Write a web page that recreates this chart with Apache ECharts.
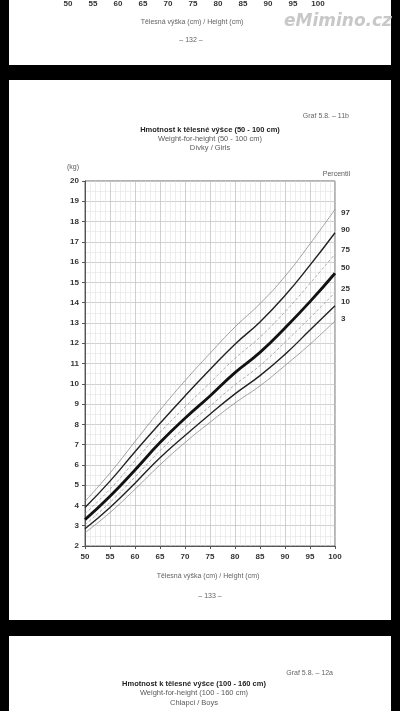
<!DOCTYPE html>
<html>
<head>
<meta charset="utf-8">
<script src="https://cdn.jsdelivr.net/npm/echarts@6/dist/echarts.min.js"></script>
<style>
  html, body { margin: 0; padding: 0; background: #000; }
  .page { position: absolute; left: 9px; width: 382px; background: #fff; }
  #chart { position: absolute; left: 0; top: 0; width: 400px; height: 711px; }
</style>
</head>
<body>
<div class="page" style="top:0;height:65px"></div>
<div class="page" style="top:80px;height:540px"></div>
<div class="page" style="top:636px;height:75px"></div>
<div id="chart"></div>
<script>
// height in cm, weight in kg
const heights = [50, 55, 60, 65, 70, 75, 80, 85, 90, 95, 100];
const p97 = [4.2, 5.6, 7.15, 8.7, 10.15, 11.5, 12.8, 13.95, 15.3, 16.9, 18.6];
const p90 = [3.9, 5.2, 6.65, 8.05, 9.4, 10.7, 11.95, 13.05, 14.35, 15.85, 17.45];
const p75 = [3.6, 4.8, 6.2, 7.6, 8.85, 10.05, 11.25, 12.3, 13.55, 14.95, 16.4];
const p50 = [3.3, 4.45, 5.75, 7.1, 8.3, 9.4, 10.55, 11.55, 12.75, 14.05, 15.45];
const p25 = [3.05, 4.15, 5.4, 6.7, 7.85, 8.9, 9.95, 10.9, 12.05, 13.25, 14.5];
const p10 = [2.85, 3.9, 5.1, 6.35, 7.45, 8.5, 9.5, 10.4, 11.45, 12.65, 13.85];
const p3 = [2.65, 3.65, 4.8, 6.0, 7.1, 8.1, 9.05, 9.9, 10.9, 11.95, 13.1];
const percentiles = ['97', '90', '75', '50', '25', '10', '3'];
const xTicks = ['50', '55', '60', '65', '70', '75', '80', '85', '90', '95', '100'];

const chart = echarts.init(document.getElementById('chart'));

const font = '"Liberation Sans", Arial, sans-serif';
const curves = [p97, p90, p75, p50, p25, p10, p3];
const styles = [
  { color: '#8a8a8a', width: 0.8, type: 'solid' },
  { color: '#222', width: 1.4, type: 'solid' },
  { color: '#9a9a9a', width: 0.8, type: [3, 2] },
  { color: '#111', width: 2.8, type: 'solid' },
  { color: '#9a9a9a', width: 0.8, type: [3, 2] },
  { color: '#222', width: 1.4, type: 'solid' },
  { color: '#8a8a8a', width: 0.8, type: 'solid' }
];
const labelShift = [3, -3, -4, -5, -4, -4, -2];

function txt(text, x, y, size, opts) {
  return {
    type: 'text',
    x: x,
    y: y,
    style: Object.assign({
      text: text,
      fontSize: size,
      fontFamily: font,
      fill: '#5a5a5a',
      textAlign: 'center',
      textVerticalAlign: 'middle'
    }, opts || {})
  };
}

const option = {
  animation: false,
  grid: [
    { left: 85, top: 181, width: 250, height: 365, show: true, borderColor: '#666', borderWidth: 1 },
    { left: 68, top: -20, width: 250, height: 12 }
  ],
  xAxis: [
    {
      type: 'value',
      min: 50,
      max: 100,
      interval: 5,
      axisLine: { lineStyle: { color: '#555' } },
      axisTick: { length: 3, lineStyle: { color: '#555' } },
      axisLabel: { fontSize: 8, fontWeight: 'bold', color: '#333', margin: 7, fontFamily: font },
      splitLine: { lineStyle: { color: '#c4c4c4', width: 0.8 } },
      minorTick: { show: false, splitNumber: 5 },
      minorSplitLine: { show: true, lineStyle: { color: '#e2e2e2', width: 0.6 } }
    },
    {
      gridIndex: 1,
      type: 'value',
      min: 50,
      max: 100,
      interval: 5,
      axisLine: { show: false },
      axisTick: { show: false },
      splitLine: { show: false },
      axisLabel: { fontSize: 8, fontWeight: 'bold', color: '#333', margin: 5, fontFamily: font,
        formatter: (v) => xTicks[(v - 50) / 5] }
    }
  ],
  yAxis: [
    {
      type: 'value',
      min: 2,
      max: 20,
      interval: 1,
      axisLine: { show: true, lineStyle: { color: '#555' } },
      axisTick: { show: true, length: 3, lineStyle: { color: '#555' } },
      axisLabel: { fontSize: 8, fontWeight: 'bold', color: '#333', margin: 6, fontFamily: font },
      splitLine: { lineStyle: { color: '#c4c4c4', width: 0.8 } },
      minorTick: { show: false, splitNumber: 2 },
      minorSplitLine: { show: true, lineStyle: { color: '#e2e2e2', width: 0.6 } }
    },
    { gridIndex: 1, type: 'value', show: false }
  ],
  series: curves.map((vals, i) => ({
    name: percentiles[i],
    type: 'line',
    smooth: 0.5,
    symbol: 'none',
    z: i === 3 ? 5 : 3,
    lineStyle: styles[i],
    endLabel: {
      show: true,
      formatter: percentiles[i],
      distance: 6,
      offset: [0, labelShift[i]],
      fontSize: 8,
      fontWeight: 'bold',
      color: '#333',
      fontFamily: font
    },
    data: heights.map((h, j) => [h, vals[j]])
  })),
  graphic: [
    // previous page tail
    txt('Tělesná výška (cm) / Height (cm)', 192, 22, 7, { fill: '#646464' }),
    txt('– 132 –', 191, 40, 7, { fill: '#646464' }),
    txt('eMimino.cz', 338, 22, 17, { fill: '#c8c8c8', fontWeight: 'bold', fontStyle: 'italic', fontFamily: '"DejaVu Sans", Verdana, sans-serif' }),
    // this page
    txt('Graf 5.8. – 11b', 349, 116, 7, { fill: '#646464', textAlign: 'right' }),
    txt('Hmotnost k tělesné výšce (50 - 100 cm)', 210, 130, 7.5, { fill: '#222', fontWeight: 'bold' }),
    txt('Weight-for-height (50 - 100 cm)', 210, 139, 7.5),
    txt('Dívky / Girls', 210, 148, 7.5),
    txt('(kg)', 73, 167, 7),
    txt('Percentil', 350, 174, 7, { textAlign: 'right' }),
    txt('Tělesná výška (cm) / Height (cm)', 208, 576, 7, { fill: '#646464' }),
    txt('– 133 –', 210, 596, 7, { fill: '#646464' }),
    // next page head
    txt('Graf 5.8. – 12a', 333, 673, 7, { fill: '#646464', textAlign: 'right' }),
    txt('Hmotnost k tělesné výšce (100 - 160 cm)', 194, 684, 7.5, { fill: '#222', fontWeight: 'bold' }),
    txt('Weight-for-height (100 - 160 cm)', 194, 693, 7.5),
    txt('Chlapci / Boys', 194, 703, 7.5)
  ]
};

chart.setOption(option);

window.addEventListener('resize', () => chart.resize());
</script>
</body>
</html>
